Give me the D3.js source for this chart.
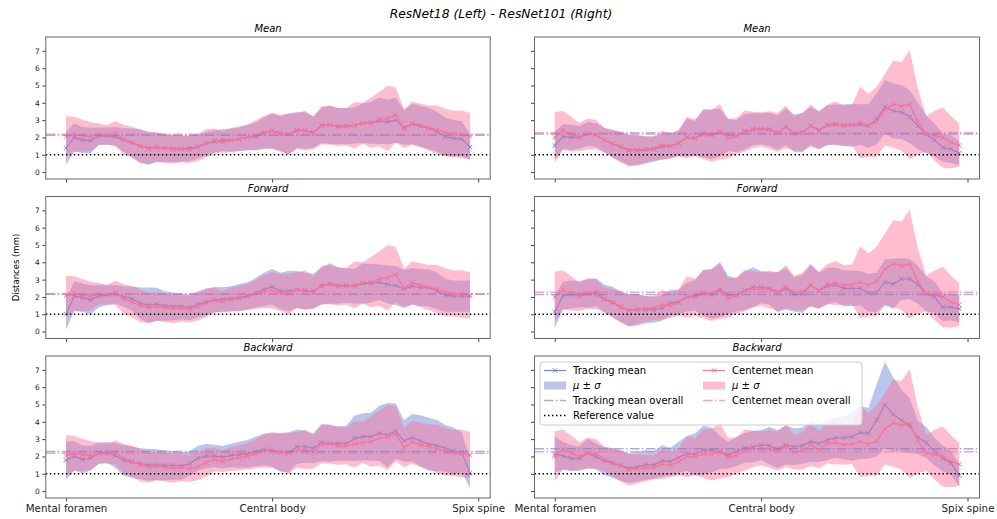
<!DOCTYPE html>
<html>
<head>
<meta charset="utf-8">
<script src="https://cdn.jsdelivr.net/npm/d3@7"></script>
<style>
  body { margin: 0; background: #fff; }
  text { font-family: "DejaVu Sans", sans-serif; }
</style>
</head>
<body>
<div id="chart"></div>
<script>
// rows of the figure, x ticks and y ticks
const rowNames = ["Mean", "Forward", "Backward"];
const xTicks = [0, 25, 50];
const xTickLabels = ["Mental foramen", "Central body", "Spix spine"];
const yTicks = [0, 1, 2, 3, 4, 5, 6, 7];
const referenceValue = 1;

// ResNet18 (left column) - tracking, per row
const trackL_mean = [1.38,2.0,1.85,1.82,2.08,2.08,2.05,1.85,1.7,1.5,1.38,1.43,1.38,1.35,1.35,1.38,1.47,1.66,1.76,1.85,1.85,1.9,2.0,2.05,2.24,2.37,2.22,2.2,2.42,2.4,2.3,2.7,2.72,2.65,2.65,2.7,2.82,2.85,2.96,2.9,3.0,2.58,2.77,2.65,2.52,2.33,2.05,1.95,1.92,1.45];
const trackL_meanSd = [0.94,0.81,0.75,0.74,0.5,0.5,0.56,0.69,0.81,0.98,0.97,0.86,0.82,0.77,0.75,0.75,0.69,0.66,0.66,0.64,0.67,0.68,0.72,0.81,0.91,1.0,1.0,1.19,1.04,1.05,0.91,1.02,1.1,1.05,1.05,1.05,1.14,1.21,1.34,1.29,1.31,1.0,1.16,1.17,1.2,1.16,1.1,1.05,1.01,0.75];
const trackL_fwd = [1.0,2.05,1.96,1.83,2.05,2.1,2.15,2.02,1.9,1.64,1.52,1.58,1.48,1.45,1.45,1.39,1.58,1.71,1.83,1.86,1.9,1.96,2.05,2.24,2.43,2.59,2.34,2.34,2.43,2.34,2.34,2.62,2.78,2.66,2.66,2.62,2.78,2.78,2.85,2.72,2.66,2.47,2.62,2.53,2.53,2.34,2.1,2.05,2.05,2.05];
const trackL_fwdSd = [0.9,0.85,0.82,0.85,0.64,0.58,0.54,0.59,0.7,0.9,1.02,0.95,0.85,0.8,0.75,0.72,0.75,0.78,0.75,0.7,0.72,0.78,0.78,0.85,0.97,1.02,1.05,1.17,1.07,1.05,1.0,1.07,1.17,1.05,1.0,1.0,1.17,1.12,1.02,1.1,1.12,1.1,1.05,1.07,1.07,1.05,0.95,0.9,0.9,0.9];
const trackL_bwd = [1.77,2.02,1.83,1.9,2.2,2.24,2.05,1.77,1.67,1.58,1.52,1.52,1.48,1.48,1.45,1.58,1.9,2.02,2.02,1.96,2.05,2.1,2.15,2.28,2.4,2.37,2.24,2.24,2.56,2.56,2.47,2.81,2.75,2.75,2.75,3.04,3.14,3.14,3.33,3.23,3.46,2.89,3.08,2.89,2.7,2.62,2.47,2.31,2.24,1.03];
const trackL_bwdSd = [1.1,0.85,0.8,0.72,0.6,0.6,0.72,0.88,0.9,0.9,0.92,0.9,0.87,0.83,0.8,0.7,0.72,0.7,0.65,0.65,0.68,0.75,0.8,0.85,0.92,0.97,1.12,1.15,1.0,0.92,0.87,1.08,1.05,1.0,1.02,1.31,1.36,1.38,1.6,1.85,1.6,1.2,1.37,1.49,1.53,1.48,1.34,1.36,1.17,0.86];

// ResNet18 - centernet (same in every row)
const cnL_mean = [2.05,2.18,2.1,2.05,2.18,2.14,2.24,1.88,1.72,1.5,1.38,1.45,1.38,1.32,1.35,1.3,1.42,1.65,1.82,1.72,1.85,1.92,2.0,2.15,2.3,2.38,2.25,2.18,2.38,2.4,2.25,2.7,2.72,2.6,2.62,2.7,2.82,2.85,3.05,3.1,3.3,2.5,2.82,2.68,2.55,2.45,2.28,2.2,2.18,2.08];
const cnL_sd = [1.18,1.01,0.92,0.82,0.62,0.56,0.7,0.85,0.9,0.94,0.88,0.82,0.82,0.84,0.78,0.78,0.78,0.82,0.69,0.62,0.69,0.72,0.75,0.84,0.94,1.05,1.06,1.18,1.04,1.14,0.95,1.1,1.14,1.09,1.07,1.35,1.18,1.45,1.58,1.88,1.59,1.13,1.24,1.26,1.3,1.4,1.38,1.33,1.38,1.33];

// ResNet101 (right column) - tracking, per row
const trackR_mean = [1.53,2.05,2.0,2.0,2.2,2.14,1.85,1.62,1.47,1.28,1.24,1.28,1.32,1.47,1.51,1.66,2.0,1.95,2.24,2.18,2.28,2.14,2.08,2.33,2.47,2.5,2.47,2.28,2.62,2.24,2.28,2.66,2.43,2.7,2.75,2.7,2.7,2.75,2.66,3.08,3.77,3.52,3.46,3.19,2.66,2.18,1.85,1.41,1.32,1.09];
const trackR_meanSd = [0.83,0.71,0.74,0.66,0.69,0.69,0.7,0.78,0.85,0.88,0.88,0.78,0.73,0.73,0.73,0.73,1.08,1.0,1.4,1.43,1.38,0.93,0.93,1.03,0.93,0.9,0.95,1.0,1.05,1.08,1.13,1.1,1.1,1.15,1.15,1.2,1.25,1.17,1.26,1.47,1.55,1.6,1.55,1.53,1.34,1.1,0.95,0.82,0.8,0.7];
const trackR_fwd = [1.13,2.08,2.14,2.16,2.2,2.28,1.89,1.7,1.41,1.22,1.26,1.26,1.26,1.36,1.66,1.7,1.99,2.08,2.24,2.18,2.43,2.12,2.12,2.37,2.56,2.56,2.5,2.28,2.47,2.14,2.18,2.66,2.37,2.62,2.7,2.5,2.5,2.5,2.24,2.28,2.85,2.75,3.04,3.04,2.7,2.18,1.99,1.41,1.41,1.32];
const trackR_fwdSd = [0.93,0.8,0.81,0.75,0.82,0.8,0.81,0.89,0.89,0.93,0.91,0.78,0.75,0.74,0.76,0.72,0.83,0.87,1.31,1.43,1.59,1.1,0.96,1.12,1.15,0.93,0.93,1.15,1.2,1.0,1.1,1.18,1.03,1.05,0.99,1.04,1.02,1.0,1.08,1.13,1.32,1.45,1.21,1.17,1.1,1.0,0.91,0.81,0.77,0.81];
const trackR_bwd = [2.12,2.03,1.89,1.89,2.18,1.99,1.74,1.61,1.47,1.32,1.4,1.51,1.51,1.74,1.7,1.93,2.18,2.12,2.37,2.37,2.24,2.08,2.28,2.5,2.56,2.66,2.62,2.43,2.66,2.56,2.62,2.85,2.75,2.94,3.08,3.08,3.14,3.38,3.33,4.09,4.99,4.42,4.09,3.77,3.08,2.81,2.28,1.89,1.61,0.9];
const trackR_bwdSd = [1.05,0.8,0.75,0.7,0.86,0.75,0.8,0.86,0.88,0.86,0.85,0.86,0.8,0.9,0.8,0.9,1.0,1.2,1.4,1.3,0.96,0.77,0.83,0.86,0.91,0.86,1.08,1.1,1.12,1.05,1.05,1.15,1.07,1.15,1.15,1.24,1.39,1.53,1.47,2.1,2.47,2.15,1.77,1.58,0.96,0.9,0.8,0.75,0.7,0.65];

// ResNet101 - centernet
const cnR_mean = [2.0,2.41,2.2,2.02,2.2,2.15,1.85,1.66,1.45,1.22,1.28,1.32,1.36,1.55,1.5,1.68,2.0,1.98,2.16,2.1,2.33,1.94,2.06,2.37,2.43,2.47,2.43,2.3,2.6,2.24,2.32,2.68,2.38,2.74,2.8,2.68,2.72,2.86,2.7,2.9,3.6,3.92,3.8,3.9,2.9,2.2,2.1,2.0,1.72,1.55];
const cnR_sd = [1.45,1.13,1.0,0.82,0.89,0.85,0.71,0.8,0.9,0.91,0.84,0.75,0.69,0.85,0.72,0.76,1.2,1.07,1.4,1.49,1.6,1.14,1.05,1.19,1.06,0.98,1.08,1.13,1.23,0.99,1.08,1.23,1.08,1.15,1.27,1.16,1.15,2.06,1.81,2.02,2.06,2.51,2.56,3.14,1.89,1.04,1.43,1.75,1.5,1.24];

// overall means (dash-dot lines), per row for tracking
const trackOverallL = [2.12, 2.15, 2.28];
const trackOverallR = [2.2, 2.14, 2.45];
const cnOverall = [2.19, 2.27];

const W = 997, H = 519;
const trackColor = "#6f86d6", cnColor = "#ff6f96";

const svg = d3.select("#chart").append("svg")
    .attr("width", W).attr("height", H)
    .style("display", "block");
svg.append("rect").attr("width", W).attr("height", H).attr("fill", "#fff");

svg.append("text")
    .attr("x", 501).attr("y", 18)
    .attr("text-anchor", "middle")
    .style("font-size", "12.3px").style("font-style", "italic")
    .text("ResNet18 (Left) - ResNet101 (Right)");

var colX = [[45.8, 490.2], [534.5, 979.5]];
var rowTop = [37, 196.5, 356];
var panelH = 142;

var panels = [
  {col: 0, row: 0, track: trackL_mean, trackSd: trackL_meanSd, cn: cnL_mean, cnSd: cnL_sd, tOver: trackOverallL[0], cOver: cnOverall[0]},
  {col: 0, row: 1, track: trackL_fwd,  trackSd: trackL_fwdSd,  cn: cnL_mean, cnSd: cnL_sd, tOver: trackOverallL[1], cOver: cnOverall[0]},
  {col: 0, row: 2, track: trackL_bwd,  trackSd: trackL_bwdSd,  cn: cnL_mean, cnSd: cnL_sd, tOver: trackOverallL[2], cOver: cnOverall[0]},
  {col: 1, row: 0, track: trackR_mean, trackSd: trackR_meanSd, cn: cnR_mean, cnSd: cnR_sd, tOver: trackOverallR[0], cOver: cnOverall[1]},
  {col: 1, row: 1, track: trackR_fwd,  trackSd: trackR_fwdSd,  cn: cnR_mean, cnSd: cnR_sd, tOver: trackOverallR[1], cOver: cnOverall[1]},
  {col: 1, row: 2, track: trackR_bwd,  trackSd: trackR_bwdSd,  cn: cnR_mean, cnSd: cnR_sd, tOver: trackOverallR[2], cOver: cnOverall[1]}
];

function xMark(x, y, r) {
  return "M" + (x - r) + "," + (y - r) + "L" + (x + r) + "," + (y + r) +
         "M" + (x - r) + "," + (y + r) + "L" + (x + r) + "," + (y - r);
}

panels.forEach(function(p) {
  var x0 = colX[p.col][0], x1 = colX[p.col][1];
  var top = rowTop[p.row];
  var xScale = d3.scaleLinear().domain([-2.45, 51.45]).range([x0, x1]);
  var yScale = d3.scaleLinear().domain([-0.4, 7.8]).range([top + panelH, top]);

  var clipId = "clip" + p.col + p.row;
  svg.append("clipPath").attr("id", clipId)
    .append("rect").attr("x", x0).attr("y", top).attr("width", x1 - x0).attr("height", panelH);

  var g = svg.append("g").attr("clip-path", "url(#" + clipId + ")");

  function drawSeries(mean, sd, color, bandOpacity) {
    var pts = mean.map(function(m, i) { return {i: i, m: m, s: sd[i]}; });
    var area = d3.area()
        .x(function(d) { return xScale(d.i); })
        .y0(function(d) { return yScale(d.m - d.s); })
        .y1(function(d) { return yScale(d.m + d.s); });
    var line = d3.line()
        .x(function(d) { return xScale(d.i); })
        .y(function(d) { return yScale(d.m); });
    g.append("path").datum(pts).attr("d", area)
        .attr("fill", color).attr("fill-opacity", bandOpacity);
    g.append("path").datum(pts).attr("d", line)
        .attr("fill", "none").attr("stroke", color).attr("stroke-width", 1.2);
    g.append("path")
        .attr("d", pts.map(function(d) { return xMark(xScale(d.i), yScale(d.m), 2.2); }).join(""))
        .attr("fill", "none").attr("stroke", color).attr("stroke-width", 1);
  }

  drawSeries(p.track, p.trackSd, trackColor, 0.48);
  drawSeries(p.cn, p.cnSd, cnColor, 0.45);

  // overall means and reference line
  g.append("line").attr("x1", x0).attr("x2", x1)
      .attr("y1", yScale(p.tOver)).attr("y2", yScale(p.tOver))
      .attr("stroke", trackColor).attr("stroke-opacity", 0.65).attr("stroke-width", 1.5)
      .attr("stroke-dasharray", "9.6,2.4,1.5,2.4");
  g.append("line").attr("x1", x0).attr("x2", x1)
      .attr("y1", yScale(p.cOver)).attr("y2", yScale(p.cOver))
      .attr("stroke", cnColor).attr("stroke-opacity", 0.65).attr("stroke-width", 1.5)
      .attr("stroke-dasharray", "9.6,2.4,1.5,2.4");
  g.append("line").attr("x1", x0).attr("x2", x1)
      .attr("y1", yScale(referenceValue)).attr("y2", yScale(referenceValue))
      .attr("stroke", "#000").attr("stroke-width", 1.5)
      .attr("stroke-dasharray", "1.5,2.5");

  // axes
  var yAxis = d3.axisLeft(yScale).tickValues(yTicks).tickSize(3.5).tickPadding(2.5)
      .tickFormat(p.col === 0 ? d3.format("d") : function() { return ""; });
  var ya = svg.append("g").attr("transform", "translate(" + x0 + ",0)").call(yAxis);
  ya.select(".domain").remove();
  ya.selectAll("line").attr("stroke", "#444");
  ya.selectAll("text").style("font-size", "7.5px").attr("fill", "#222")
      .style("font-family", "DejaVu Sans");

  var xAxis = d3.axisBottom(xScale).tickValues(xTicks).tickSize(3.5).tickPadding(3)
      .tickFormat(p.row === 2 ? function(d, i) { return xTickLabels[i]; } : function() { return ""; });
  var xa = svg.append("g").attr("transform", "translate(0," + (top + panelH) + ")").call(xAxis);
  xa.select(".domain").remove();
  xa.selectAll("line").attr("stroke", "#444");
  xa.selectAll("text").style("font-size", "10.3px").attr("fill", "#222")
      .style("font-family", "DejaVu Sans");

  // frame
  svg.append("rect").attr("x", x0).attr("y", top)
      .attr("width", x1 - x0).attr("height", panelH)
      .attr("fill", "none").attr("stroke", "#666").attr("stroke-width", 1);

  // subplot title
  svg.append("text")
      .attr("x", (x0 + x1) / 2).attr("y", top - 5)
      .attr("text-anchor", "middle")
      .style("font-size", "10px").style("font-style", "italic")
      .text(rowNames[p.row]);
});

// y label
svg.append("text")
    .attr("transform", "translate(19," + (rowTop[1] + panelH / 2) + ") rotate(-90)")
    .attr("text-anchor", "middle")
    .style("font-size", "8.5px")
    .text("Distances (mm)");

// legend in the bottom right panel
var lg = svg.append("g").attr("transform", "translate(540,362)");
lg.append("rect").attr("width", 322).attr("height", 63).attr("rx", 3)
    .attr("fill", "#fff").attr("fill-opacity", 0.8)
    .attr("stroke", "#ccc").attr("stroke-width", 1);

var legendItems = [
  {col: 0, row: 0, type: "line", color: trackColor, label: "Tracking mean"},
  {col: 0, row: 1, type: "patch", color: trackColor, op: 0.48, label: "μ ± σ"},
  {col: 0, row: 2, type: "dashdot", color: trackColor, label: "Tracking mean overall"},
  {col: 0, row: 3, type: "dotted", color: "#000", label: "Reference value"},
  {col: 1, row: 0, type: "line", color: cnColor, label: "Centernet mean"},
  {col: 1, row: 1, type: "patch", color: cnColor, op: 0.45, label: "μ ± σ"},
  {col: 1, row: 2, type: "dashdot", color: cnColor, label: "Centernet mean overall"}
];
var colOff = [4, 163];
legendItems.forEach(function(d) {
  var hx = colOff[d.col], hy = 8.5 + d.row * 15;
  if (d.type === "line") {
    lg.append("line").attr("x1", hx).attr("x2", hx + 22).attr("y1", hy).attr("y2", hy)
        .attr("stroke", d.color).attr("stroke-width", 1.2);
    lg.append("path").attr("d", xMark(hx + 11, hy, 2.2))
        .attr("stroke", d.color).attr("stroke-width", 1).attr("fill", "none");
  } else if (d.type === "patch") {
    lg.append("rect").attr("x", hx).attr("y", hy - 4).attr("width", 22).attr("height", 8)
        .attr("fill", d.color).attr("fill-opacity", d.op);
  } else if (d.type === "dashdot") {
    lg.append("line").attr("x1", hx).attr("x2", hx + 22).attr("y1", hy).attr("y2", hy)
        .attr("stroke", d.color).attr("stroke-opacity", 0.65).attr("stroke-width", 1.5)
        .attr("stroke-dasharray", "9.6,2.4,1.5,2.4");
  } else {
    lg.append("line").attr("x1", hx).attr("x2", hx + 22).attr("y1", hy).attr("y2", hy)
        .attr("stroke", d.color).attr("stroke-width", 1.5).attr("stroke-dasharray", "1.5,2.5");
  }
  var t = lg.append("text").attr("x", hx + 29).attr("y", hy + 3.6)
      .style("font-size", "10px");
  if (d.type === "patch") {
    t.append("tspan").style("font-style", "italic").text("μ");
    t.append("tspan").text(" ± ");
    t.append("tspan").style("font-style", "italic").text("σ");
  } else {
    t.text(d.label);
  }
});
</script>
</body>
</html>
